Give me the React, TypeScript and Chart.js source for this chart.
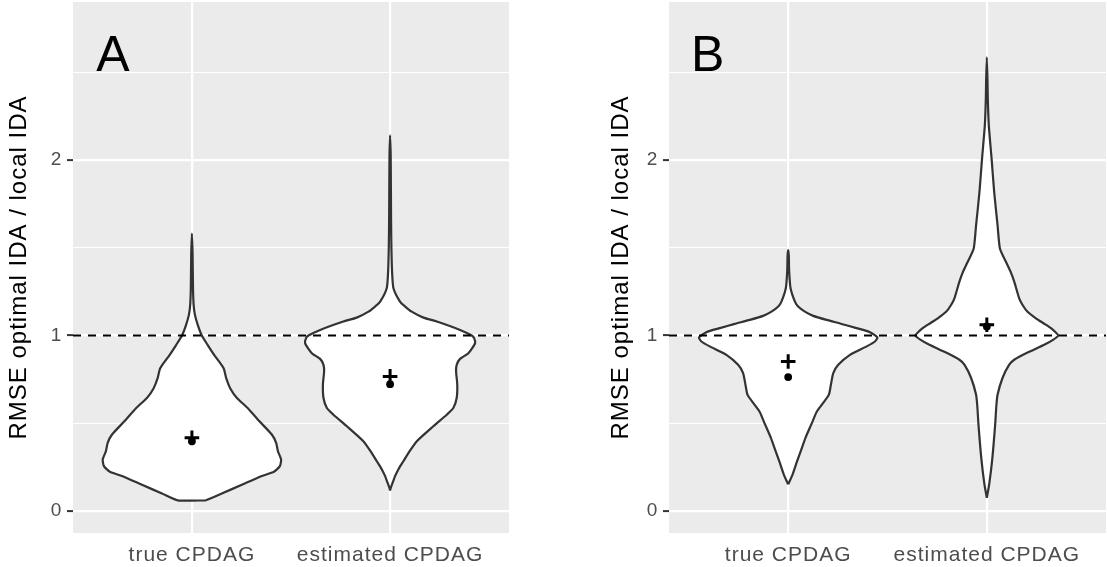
import React, { useEffect, useRef } from 'react';
import { Chart, registerables } from 'chart.js';

Chart.register(...registerables);

// ---------- data ----------
const CATEGORIES = ['true CPDAG', 'estimated CPDAG'];
const Y_TICKS = [0, 0.5, 1, 1.5, 2, 2.5];
const X_TICKS = [1, 2];
const REFERENCE_VALUE = 1;
const Y_TITLE = 'RMSE optimal IDA / local IDA';
const PANEL_LABELS = ['A', 'B'];

// violin outlines: y levels and half-widths (in category units)
const A_TRUE_Y = [0.061, 0.1, 0.15, 0.2, 0.224, 0.256, 0.294, 0.341, 0.389, 0.436, 0.511, 0.587, 0.644, 0.7, 0.757, 0.814, 0.89, 0.947, 1.0, 1.062, 1.119, 1.176, 1.27, 1.46, 1.581];
const A_TRUE_W = [0.071, 0.151, 0.252, 0.353, 0.414, 0.444, 0.45, 0.434, 0.425, 0.403, 0.341, 0.281, 0.227, 0.193, 0.173, 0.16, 0.112, 0.079, 0.05, 0.029, 0.015, 0.0086, 0.0055, 0.0035, 0];

const A_EST_Y = [0.117, 0.133, 0.16, 0.199, 0.24, 0.284, 0.34, 0.398, 0.483, 0.549, 0.587, 0.644, 0.72, 0.795, 0.833, 0.867, 0.899, 0.956, 0.985, 1.0, 1.032, 1.08, 1.102, 1.136, 1.165, 1.193, 1.269, 1.364, 1.5, 1.648, 1.85, 2.027, 2.14];
const A_EST_W = [0, 0.0035, 0.0126, 0.025, 0.043, 0.067, 0.098, 0.135, 0.218, 0.286, 0.319, 0.336, 0.339, 0.333, 0.336, 0.353, 0.395, 0.429, 0.424, 0.412, 0.353, 0.236, 0.168, 0.109, 0.076, 0.05, 0.017, 0.01, 0.0066, 0.005, 0.004, 0.003, 0];

const B_TRUE_Y = [0.152, 0.208, 0.284, 0.35, 0.417, 0.511, 0.564, 0.616, 0.663, 0.72, 0.786, 0.833, 0.89, 0.938, 0.966, 0.989, 1.019, 1.042, 1.066, 1.089, 1.112, 1.136, 1.165, 1.193, 1.269, 1.364, 1.458, 1.487];
const B_TRUE_W = [0, 0.022, 0.045, 0.066, 0.087, 0.123, 0.143, 0.176, 0.205, 0.215, 0.227, 0.252, 0.311, 0.395, 0.437, 0.449, 0.412, 0.344, 0.269, 0.193, 0.126, 0.084, 0.05, 0.034, 0.012, 0.005, 0.003, 0];

const B_EST_Y = [0.076, 0.152, 0.303, 0.492, 0.6, 0.663, 0.758, 0.833, 0.862, 0.903, 0.947, 0.975, 1.0, 1.02, 1.042, 1.07, 1.098, 1.135, 1.174, 1.212, 1.307, 1.36, 1.42, 1.496, 1.629, 1.818, 2.008, 2.197, 2.348, 2.45, 2.585];
const B_EST_W = [0, 0.012, 0.028, 0.042, 0.048, 0.054, 0.079, 0.112, 0.138, 0.205, 0.289, 0.333, 0.36, 0.345, 0.323, 0.285, 0.247, 0.205, 0.18, 0.163, 0.138, 0.121, 0.096, 0.066, 0.054, 0.037, 0.024, 0.01, 0.005, 0.0035, 0];

// summary markers (per category)
const A_MEAN = [0.417, 0.767];
const A_MEDIAN = [0.398, 0.723];
const B_MEAN = [0.852, 1.061];
const B_MEDIAN = [0.763, 1.052];

// ---------- helpers ----------
const FONT = '"Liberation Sans", Arial, Helvetica, sans-serif';

function violinPoints(center: number, ys: number[], ws: number[]) {
  const pts: { x: number; y: number }[] = [];
  const n = ys.length;
  for (let i = 0; i < n; i++) pts.push({ x: center + ws[i], y: ys[i] });
  for (let i = n - 2; i >= 1; i--) pts.push({ x: center - ws[i], y: ys[i] });
  if (ws[0] > 0) pts.push({ x: center - ws[0], y: ys[0] });
  pts.push({ x: center + ws[0], y: ys[0] });
  return pts;
}

const panelPlugin = {
  id: 'panelDecor',
  beforeDraw(chart: any) {
    const { ctx, chartArea } = chart;
    ctx.save();
    ctx.fillStyle = '#EBEBEB';
    ctx.fillRect(chartArea.left, chartArea.top, chartArea.right - chartArea.left, chartArea.bottom - chartArea.top);
    ctx.restore();
    try { (ctx as any).letterSpacing = '1px'; } catch (e) { /* ignore */ }
  },
  afterDatasetsDraw(chart: any, _args: any, opts: any) {
    const { ctx, chartArea } = chart;
    ctx.save();
    try { (ctx as any).letterSpacing = '0px'; } catch (e) { /* ignore */ }
    ctx.font = `50px ${FONT}`;
    ctx.fillStyle = '#000000';
    ctx.textAlign = 'left';
    ctx.textBaseline = 'alphabetic';
    ctx.fillText(opts.label, chartArea.left + opts.labelDx, 70.7);
    ctx.restore();
  },
};

function buildConfig(
  label: string,
  labelDx: number,
  trueY: number[], trueW: number[],
  estY: number[], estW: number[],
  means: number[], medians: number[],
  yWidth: number, rightPad: number, titlePad: number,
) {
  const violinStyle = {
    type: 'line',
    showLine: true,
    fill: 'shape',
    backgroundColor: '#FFFFFF',
    borderColor: '#333333',
    borderWidth: 2.2,
    pointRadius: 0,
    tension: 0.2,
    order: 3,
  };
  return {
    type: 'line',
    data: {
      datasets: [
        {
          label: 'mean',
          data: X_TICKS.map((x, i) => ({ x, y: means[i] })),
          showLine: false,
          pointStyle: 'cross',
          pointRadius: 7.3,
          pointBorderWidth: 3,
          pointBorderColor: '#000000',
          pointBackgroundColor: '#000000',
          order: 0,
        },
        {
          label: 'median',
          data: X_TICKS.map((x, i) => ({ x, y: medians[i] })),
          showLine: false,
          pointStyle: 'circle',
          pointRadius: 3.9,
          pointBorderWidth: 0,
          pointBackgroundColor: '#000000',
          order: 1,
        },
        {
          label: 'reference',
          data: [{ x: 0.4, y: REFERENCE_VALUE }, { x: 2.6, y: REFERENCE_VALUE }],
          borderColor: '#000000',
          borderWidth: 2,
          borderDash: [8, 7],
          pointRadius: 0,
          fill: false,
          order: 2,
        },
        { ...violinStyle, label: CATEGORIES[0], data: violinPoints(X_TICKS[0], trueY, trueW) },
        { ...violinStyle, label: CATEGORIES[1], data: violinPoints(X_TICKS[1], estY, estW) },
      ],
    },
    options: {
      responsive: false,
      animation: false,
      devicePixelRatio: 1,
      events: [],
      layout: { autoPadding: false, padding: { left: 0, right: rightPad, top: 2, bottom: 0 } },
      plugins: {
        legend: { display: false },
        tooltip: { enabled: false },
        panelDecor: { label, labelDx },
      },
      scales: {
        x: {
          type: 'linear',
          min: 0.4,
          max: 2.6,
          afterBuildTicks: (s: any) => { s.ticks = X_TICKS.map((v) => ({ value: v })); },
          afterFit: (s: any) => { s.height = 34; s.paddingLeft = 0; s.paddingRight = 0; },
          border: { display: false },
          grid: { color: '#FFFFFF', lineWidth: 2.2, drawTicks: false },
          ticks: {
            autoSkip: false,
            maxRotation: 0,
            padding: 9.6,
            color: '#4D4D4D',
            font: { family: FONT, size: 21 },
            callback: (v: any) => CATEGORIES[Math.round(v) - 1] ?? '',
          },
        },
        y: {
          type: 'linear',
          min: -0.125,
          max: 2.9,
          afterBuildTicks: (s: any) => { s.ticks = Y_TICKS.map((v) => ({ value: v })); },
          afterFit: (s: any) => { s.width = yWidth; s.paddingTop = 0; s.paddingBottom = 0; },
          border: { display: false },
          grid: {
            color: '#FFFFFF',
            lineWidth: (c: any) => (c.tick && Number.isInteger(c.tick.value) ? 2.2 : 1.1),
            tickColor: (c: any) => (c.tick && Number.isInteger(c.tick.value) ? '#333333' : 'rgba(0,0,0,0)'),
            tickLength: 6,
            tickWidth: 2,
            drawTicks: true,
          },
          ticks: {
            padding: 4.7,
            color: '#4D4D4D',
            font: { family: FONT, size: 19 },
            callback: (v: any) => (Number.isInteger(v) ? String(v) : ''),
          },
          title: {
            display: true,
            text: Y_TITLE,
            color: '#000000',
            font: { family: FONT, size: 24, lineHeight: 1 },
            padding: { top: titlePad, bottom: 0 },
          },
        },
      },
    },
    plugins: [panelPlugin],
  };
}

export default function App() {
  const refA = useRef<HTMLCanvasElement>(null);
  const refB = useRef<HTMLCanvasElement>(null);

  useEffect(() => {
    const charts: Chart[] = [];
    if (refA.current) {
      charts.push(new Chart(refA.current, buildConfig(PANEL_LABELS[0], 23.3, A_TRUE_Y, A_TRUE_W, A_EST_Y, A_EST_W, A_MEAN, A_MEDIAN, 73, 88, 7.5) as any));
    }
    if (refB.current) {
      charts.push(new Chart(refB.current, buildConfig(PANEL_LABELS[1], 22, B_TRUE_Y, B_TRUE_W, B_EST_Y, B_EST_W, B_MEAN, B_MEDIAN, 72, 1, 12.5) as any));
    }
    return () => charts.forEach((c) => c.destroy());
  }, []);

  return (
    <div style={{ position: 'absolute', left: 0, top: 0, width: 1107, height: 567, background: '#FFFFFF' }}>
      <canvas ref={refA} width={597} height={567} style={{ position: 'absolute', left: 0, top: 0 }} />
      <canvas ref={refB} width={510} height={567} style={{ position: 'absolute', left: 597, top: 0 }} />
    </div>
  );
}
